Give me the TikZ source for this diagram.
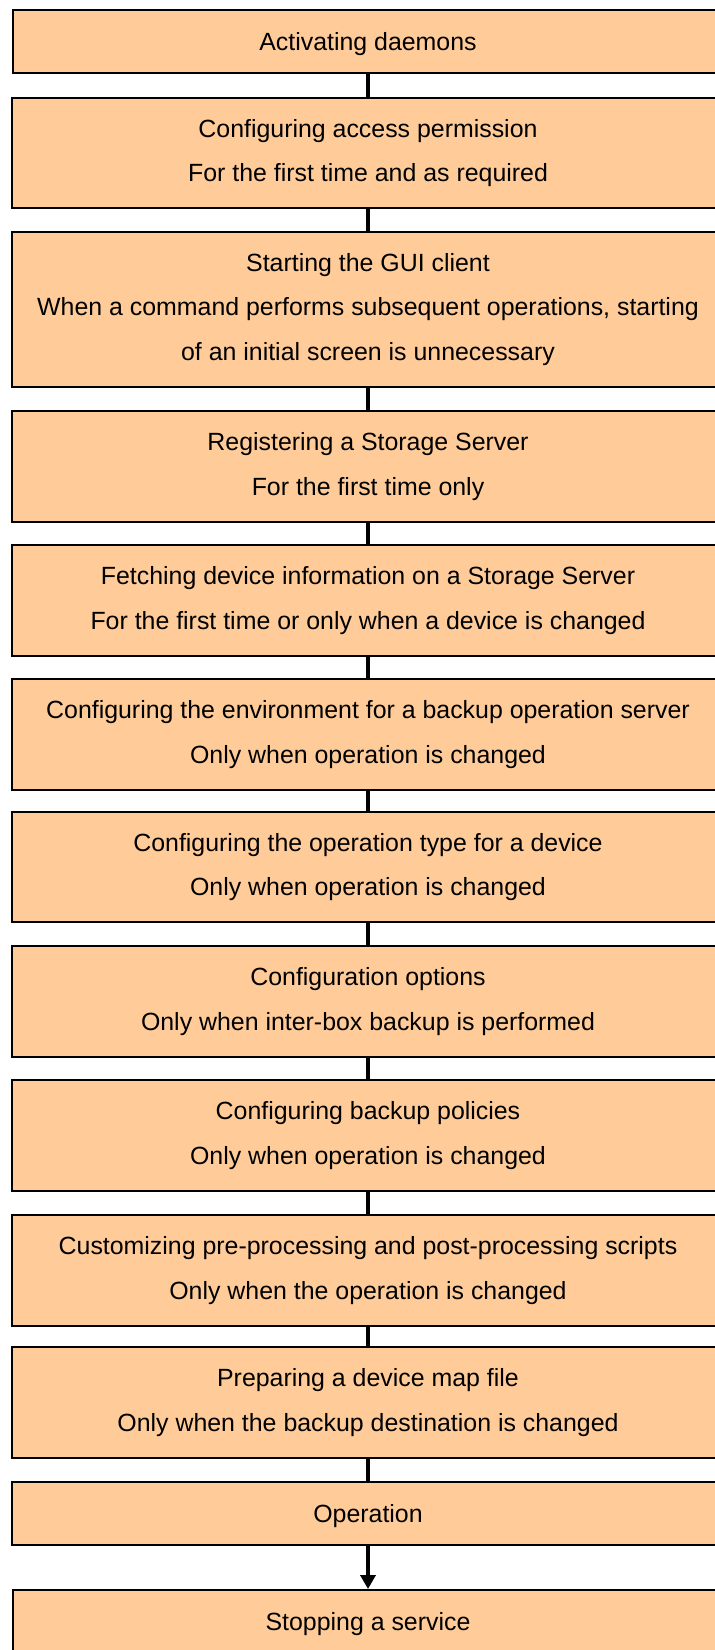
\documentclass[tikz,border=0pt]{standalone}
\usepackage{fontspec}
\setmainfont{Liberation Sans}
\usepackage{tikz}
\usetikzlibrary{arrows.meta}

\definecolor{boxfill}{RGB}{255,204,153}

\tikzset{
	stage/.style={draw, line width=2pt, fill=boxfill, minimum width=713pt, inner sep=0pt,
		align=center, font=\fontsize{24.9}{44.5}\selectfont,
		execute at begin node={\rule{0pt}{24pt}},
		execute at end node={\rule[-5pt]{0pt}{0pt}}},
	one/.style={stage, minimum height=63pt},
	two/.style={stage, minimum height=111pt},
	three/.style={stage, minimum height=155pt},
	link/.style={line width=3.5pt, >={Triangle[width=15pt,length=14pt]}}
}

\begin{document}
\begin{tikzpicture}[x=1pt, y=-1pt]
	\useasboundingbox (0, 0) rectangle (715, 1650);
	% nodes
	\node[one, minimum width=710pt] (act) at (368, 41.5) {Activating daemons};
	\node[two, minimum height=110pt] (perm) at (368, 153) {Configuring access permission\\For the first time and as required};
	\node[three] (gui) at (368, 309.5) {Starting the GUI client\\When a command performs subsequent operations, starting\\of an initial screen is unnecessary};
	\node[two] (reg) at (368, 466.5) {Registering a Storage Server\\For the first time only};
	\node[two] (fetch) at (368, 600.5) {Fetching device information on a Storage Server\\For the first time or only when a device is changed};
	\node[two] (env) at (368, 734.5) {Configuring the environment for a backup operation server\\Only when operation is changed};
	\node[two, minimum height=110pt] (optype) at (368, 867) {Configuring the operation type for a device\\Only when operation is changed};
	\node[two] (opts) at (368, 1001.5) {Configuration options\\Only when inter-box backup is performed};
	\node[two] (policy) at (368, 1135.5) {Configuring backup policies\\Only when operation is changed};
	\node[two] (scripts) at (368, 1270.5) {Customizing pre-processing and post-processing scripts\\Only when the operation is changed};
	\node[two] (devmap) at (368, 1402.5) {Preparing a device map file\\Only when the backup destination is changed};
	\node[one] (oper) at (368, 1513.5) {Operation};
	\node[one, minimum width=710pt] (stop) at (368, 1621.5) {Stopping a service};
	
	% connectors
	\draw[link]
	(act) edge (perm)
	(perm) edge (gui)
	(gui) edge (reg)
	(reg) edge (fetch)
	(fetch) edge (env)
	(env) edge (optype)
	(optype) edge (opts)
	(opts) edge (policy)
	(policy) edge (scripts)
	(scripts) edge (devmap)
	(devmap) edge (oper)
	(oper) edge[->] (stop);
\end{tikzpicture}
\end{document}
